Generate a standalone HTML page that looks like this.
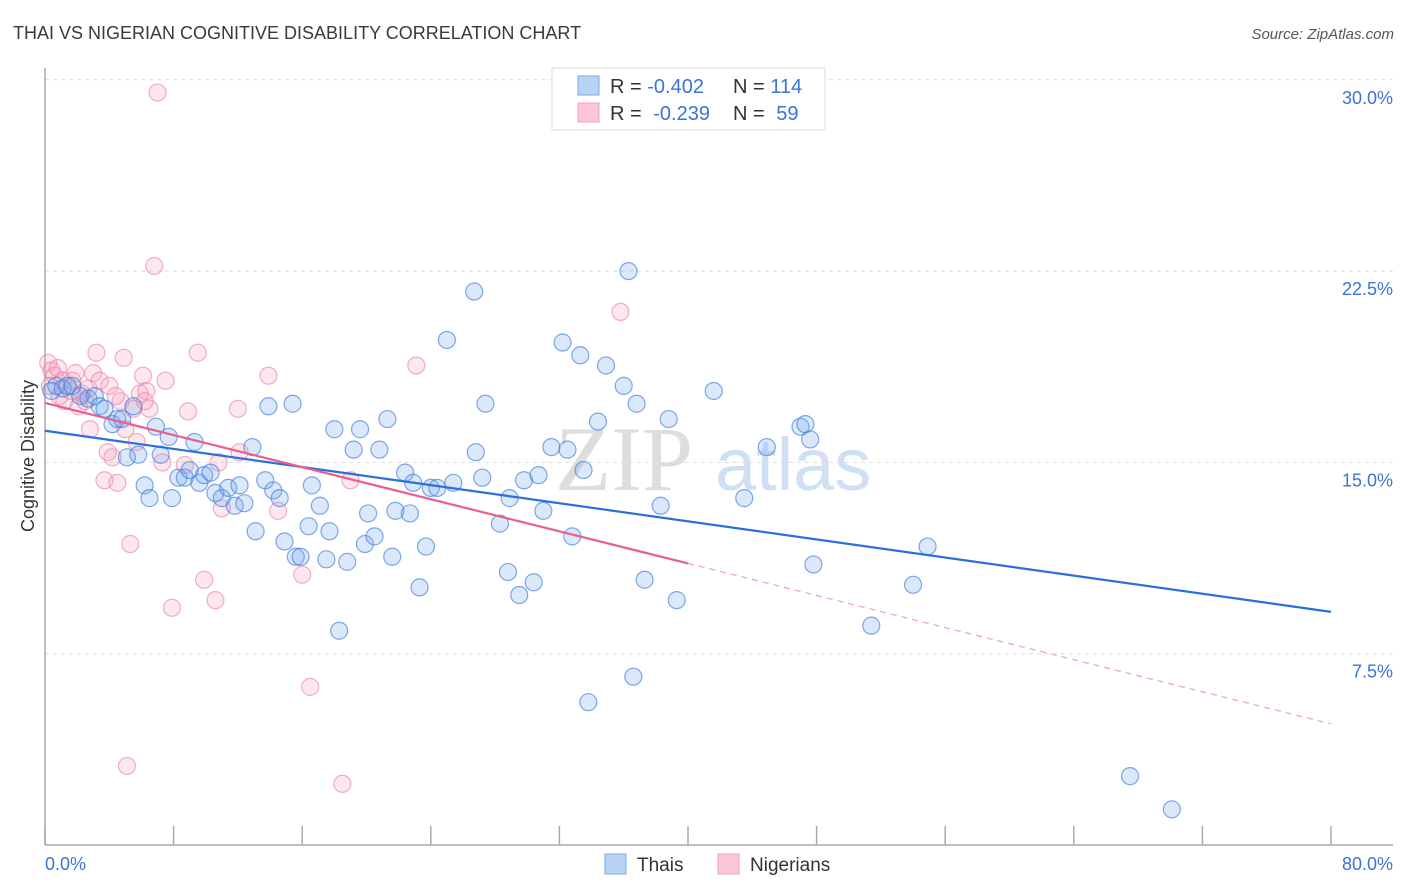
<!DOCTYPE html>
<html><head><meta charset="utf-8"><style>
body{margin:0;background:#fff;font-family:"Liberation Sans",sans-serif}
svg{display:block}
</style></head><body>
<svg id="chart" width="1406" height="892" xmlns="http://www.w3.org/2000/svg">
<text x="13" y="39" font-size="18" fill="#3a3a3a">THAI VS NIGERIAN COGNITIVE DISABILITY CORRELATION CHART</text>
<text x="1394" y="39" font-size="15" fill="#555" font-style="italic" text-anchor="end">Source: ZipAtlas.com</text>
<g>
<text x="555" y="490" font-size="92" fill="#ddd" font-family="Liberation Serif, serif">ZIP</text>
<text x="715" y="490" font-size="74" fill="#cfe0f5">atlas</text>
</g>
<g id="grid"></g>
<g id="axes"></g>
<g id="pink"></g>
<g id="blue"></g>
<g id="lines"></g>
<text transform="translate(34,456) rotate(-90)" font-size="18" fill="#333" text-anchor="middle">Cognitive Disability</text>
<g>
<rect x="552" y="68" width="273" height="62" fill="#fff" stroke="#ddd"/>
<rect x="578" y="76" width="21" height="19" fill="#b9d3f5" stroke="#7aaae8"/>
<rect x="578" y="103" width="21" height="19" fill="#fcc6d6" stroke="#f0a0bc"/>
<text x="610" y="93" font-size="20" fill="#333">R = <tspan fill="#3b73d6">-0.402</tspan></text>
<text x="733" y="93" font-size="20" fill="#333">N = <tspan fill="#3b73d6">114</tspan></text>
<text x="610" y="120" font-size="20" fill="#333">R = <tspan fill="#3b73d6" dx="6">-0.239</tspan></text>
<text x="733" y="120" font-size="20" fill="#333">N = <tspan fill="#3b73d6" dx="6">59</tspan></text>
</g>
<g>
<rect x="605" y="854" width="21" height="20" fill="#b9d3f5" stroke="#7aaae8"/>
<text x="637" y="871" font-size="19" fill="#333">Thais</text>
<rect x="718" y="854" width="21" height="20" fill="#fcc6d6" stroke="#f0a0bc"/>
<text x="750" y="871" font-size="19" fill="#333">Nigerians</text>
</g>
</svg>
<script>
const yTicks=[7.5,15,22.5,30];
const yTickLabels=["7.5%","15.0%","22.5%","30.0%"];
const xTicks=[0,8,16,24,32,40,48,56,64,72,80];
const thaiX=[0.4,0.7,1.1,1.4,1.7,2.2,2.7,3.1,3.4,3.7,4.2,4.5,4.8,5.1,5.5,5.8,6.2,6.5,6.9,7.2,7.7,7.9,8.3,8.7,9.0,9.3,9.6,9.9,10.3,10.6,11.0,11.4,11.8,12.1,12.4,12.9,13.1,13.7,13.9,14.2,14.6,14.9,15.4,15.6,15.9,16.4,16.6,17.1,17.5,17.7,18.0,18.3,18.8,19.2,19.6,19.9,20.1,20.5,20.8,21.3,21.6,21.8,22.4,22.7,22.9,23.3,23.7,24.0,24.4,25.0,25.4,26.7,26.8,27.2,27.4,28.3,28.8,28.9,29.5,29.8,30.4,30.7,31.0,31.5,32.2,32.5,32.8,33.3,33.5,33.8,34.4,34.9,36.0,36.3,36.6,36.8,37.3,38.3,38.8,39.3,41.6,43.5,44.9,47.0,47.3,47.6,47.8,51.4,54.0,54.9,67.5,70.1];
const thaiY=[17.8,18.0,17.9,18.0,18.0,17.6,17.5,17.6,17.2,17.1,16.5,16.7,16.7,15.2,17.2,15.3,14.1,13.6,16.4,15.3,16.0,13.6,14.4,14.4,14.7,15.8,14.2,14.5,14.6,13.8,13.6,14.0,13.3,14.1,13.4,15.6,12.3,14.3,17.2,13.9,13.6,11.9,17.3,11.3,11.3,12.5,14.1,13.3,11.2,12.3,16.3,8.4,11.1,15.5,16.3,11.8,13.0,12.1,15.5,16.7,11.3,13.1,14.6,13.0,14.2,10.1,11.7,14.0,14.0,19.8,14.2,21.7,15.4,14.4,17.3,12.6,10.7,13.6,9.8,14.3,10.3,14.5,13.1,15.6,19.7,15.5,12.1,19.2,14.7,5.6,16.6,18.8,18.0,22.5,6.6,17.3,10.4,13.3,16.7,9.6,17.8,13.6,15.6,16.4,16.5,15.9,11.0,8.6,10.2,11.7,2.7,1.4];
const nigX=[0.2,0.4,0.6,0.8,1.1,1.2,1.6,1.9,2.1,2.3,2.7,2.8,3.0,3.2,3.4,3.7,3.9,4.0,4.2,4.5,4.7,4.9,5.0,5.1,5.3,5.5,5.7,5.9,6.1,6.3,6.5,6.8,7.0,7.3,7.5,7.9,8.7,8.9,9.5,9.9,10.6,10.8,11.0,12.0,12.1,13.9,14.5,16.0,16.5,18.5,19.0,23.1,35.8,1.7,0.9,2.5,0.3,4.4,6.2];
const nigY=[18.9,18.6,18.4,18.7,18.2,17.4,17.8,18.5,17.2,17.7,17.9,16.3,18.5,19.3,18.2,14.3,15.4,18.0,15.2,14.2,17.4,19.1,16.3,3.1,11.8,17.1,15.8,17.7,18.4,17.8,17.1,22.7,29.5,15.0,18.2,9.3,14.9,17.0,19.3,10.4,9.6,15.0,13.2,17.1,15.4,18.4,13.1,10.6,6.2,2.4,14.3,18.8,20.9,18.2,17.6,17.4,18.0,17.6,17.4];
const thaiTrend=[16.24,9.14];
const nigTrend=[17.33,4.75];
const nigSolidEnd=40;

const NS="http://www.w3.org/2000/svg";
const X=v=>45+v*(1286/80);
const Y=v=>845-v*(191.3/7.5);
function mk(tag,attrs,parent){const e=document.createElementNS(NS,tag);for(const k in attrs)e.setAttribute(k,attrs[k]);parent.appendChild(e);return e;}
const grid=document.getElementById('grid'),axes=document.getElementById('axes');
yTicks.forEach((t,i)=>{
 const l=mk('line',{x1:45,x2:1393,y1:Y(t),y2:Y(t),stroke:'#ddd','stroke-dasharray':'4,4'},grid);
 
 
 const tx=mk('text',{x:1393,y:Y(t)+24,'font-size':18,fill:'#3b73d6','text-anchor':'end'},axes);
 tx.textContent=yTickLabels[i];
 
 
});
mk('line',{x1:45,x2:45,y1:68,y2:845,stroke:'#aaa','stroke-width':1.5},axes);
mk('line',{x1:45,x2:1393,y1:845,y2:845,stroke:'#aaa','stroke-width':1.5},axes);
xTicks.forEach(t=>{
 const l=mk('line',{x1:X(t),x2:X(t),y1:826,y2:845,stroke:'#aaa','stroke-width':1.5},axes);
 
 
});
const x0=mk('text',{x:45,y:870,'font-size':18,fill:'#3b73d6'},axes);x0.textContent='0.0%';


const x1=mk('text',{x:1393,y:870,'font-size':18,fill:'#3b73d6','text-anchor':'end'},axes);x1.textContent='80.0%';


const pink=document.getElementById('pink'),blue=document.getElementById('blue');
nigX.forEach((v,i)=>{
 const c=mk('circle',{cx:X(v),cy:Y(nigY[i]),r:8.5,fill:'rgba(246,160,190,0.25)',stroke:'rgba(236,130,168,0.65)','stroke-width':1.2},pink);
 
 
});
thaiX.forEach((v,i)=>{
 const c=mk('circle',{cx:X(v),cy:Y(thaiY[i]),r:8.5,fill:'rgba(110,165,235,0.25)',stroke:'rgba(60,125,220,0.65)','stroke-width':1.2},blue);
 
 
});
const lines=document.getElementById('lines');
const nAt=v=>nigTrend[0]+(nigTrend[1]-nigTrend[0])*v/80;
let l1=mk('line',{x1:X(0),y1:Y(thaiTrend[0]),x2:X(80),y2:Y(thaiTrend[1]),stroke:'#2a6fdb','stroke-width':2.2},lines);


let l2=mk('line',{x1:X(0),y1:Y(nigTrend[0]),x2:X(nigSolidEnd),y2:Y(nAt(nigSolidEnd)),stroke:'#e8608e','stroke-width':2.2},lines);


let l3=mk('line',{x1:X(nigSolidEnd),y1:Y(nAt(nigSolidEnd)),x2:X(80),y2:Y(nigTrend[1]),stroke:'#eea0ba','stroke-width':1.2,'stroke-dasharray':'6,5'},lines);


</script>
</body></html>
